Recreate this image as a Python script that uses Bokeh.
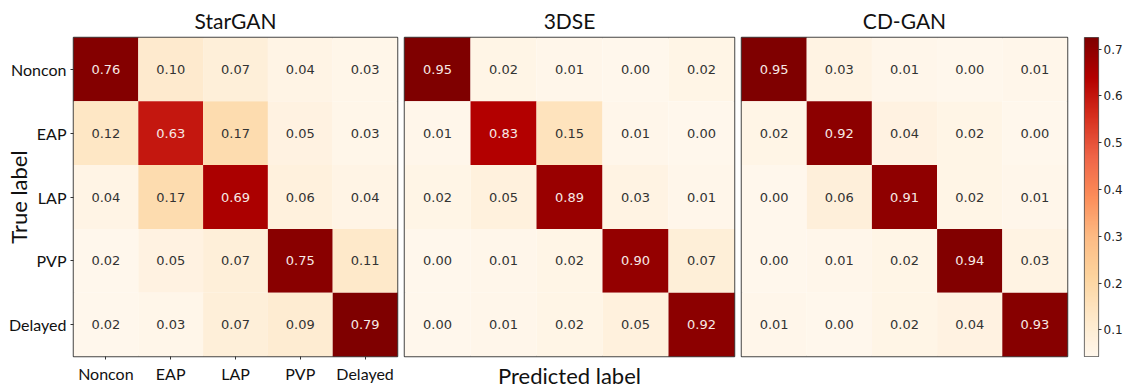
import numpy as np
from bokeh.plotting import figure
from bokeh.layouts import row
from bokeh.models import (ColumnDataSource, FactorRange, Range1d, FixedTicker,
                          Title, LinearColorMapper)
from bokeh.transform import linear_cmap
from bokeh.core.properties import value
from bokeh.palettes import OrRd9
from bokeh.embed import file_html
from bokeh.resources import INLINE

labels = ["Noncon", "EAP", "LAP", "PVP", "Delayed"]
titles = ["StarGAN", "3DSE", "CD-GAN"]

stargan = [[0.76, 0.10, 0.07, 0.04, 0.03],
           [0.12, 0.63, 0.17, 0.05, 0.03],
           [0.04, 0.17, 0.69, 0.06, 0.04],
           [0.02, 0.05, 0.07, 0.75, 0.11],
           [0.02, 0.03, 0.07, 0.09, 0.79]]
dse = [[0.95, 0.02, 0.01, 0.00, 0.02],
       [0.01, 0.83, 0.15, 0.01, 0.00],
       [0.02, 0.05, 0.89, 0.03, 0.01],
       [0.00, 0.01, 0.02, 0.90, 0.07],
       [0.00, 0.01, 0.02, 0.05, 0.92]]
cdgan = [[0.95, 0.03, 0.01, 0.00, 0.01],
         [0.02, 0.92, 0.04, 0.02, 0.00],
         [0.00, 0.06, 0.91, 0.02, 0.01],
         [0.00, 0.01, 0.02, 0.94, 0.03],
         [0.01, 0.00, 0.02, 0.04, 0.93]]

colorbar_ticks = [0.1, 0.2, 0.3, 0.4, 0.5, 0.6, 0.7]
colorbar_low, colorbar_high = 0.043, 0.725

LABEL_FONT = "Lato"
H = 391
TOP = 36
BOTTOM = 33


def make_palette(base, n=256):
    base = list(base)
    lum = lambda c: sum(int(c[i:i + 2], 16) for i in (1, 3, 5))
    if lum(base[0]) < lum(base[-1]):
        base = base[::-1]  # light -> dark
    rgb = np.array([[int(c[i:i + 2], 16) for i in (1, 3, 5)] for c in base], float)
    xs = np.linspace(0, 1, len(base))
    t = np.linspace(0, 1, n)
    out = np.stack([np.interp(t, xs, rgb[:, k]) for k in range(3)], 1)
    return ["#%02x%02x%02x" % tuple(int(round(v)) for v in r) for r in out]


PAL = make_palette(OrRd9)


def panel(mat, title, width, bl, br, low, high):
    xs, ys, vs, ts, cs = [], [], [], [], []
    for i, t in enumerate(labels):
        for j, pr in enumerate(labels):
            v = mat[i][j]
            xs.append(pr)
            ys.append(t)
            vs.append(v)
            ts.append("%.2f" % v)
            cs.append("#f7e9e6" if v > 0.5 else "#333333")
    src = ColumnDataSource(dict(x=xs, y=ys, v=vs, t=ts, c=cs))
    p = figure(width=width, height=H, x_range=FactorRange(*labels),
               y_range=FactorRange(*labels[::-1]), output_backend="svg",
               toolbar_location=None, min_border_left=bl, min_border_right=br,
               min_border_top=TOP, min_border_bottom=BOTTOM, title=title)
    p.rect(x="x", y="y", width=1, height=1, source=src,
           fill_color=linear_cmap("v", PAL, low, high), line_color=None)
    p.text(x="x", y="y", text="t", text_color="c", text_align="center",
           text_baseline="middle", text_font=value("DejaVu Sans"),
           text_font_size="13px", source=src)
    p.title.align = "center"
    p.title.text_font = LABEL_FONT
    p.title.text_font_size = "21px"
    p.title.text_font_style = "normal"
    p.title.text_color = "#111111"
    p.title.standoff = 10
    p.grid.visible = False
    p.outline_line_color = "#444444"
    p.outline_line_width = 1.5
    p.x_range.range_padding = 0
    p.y_range.range_padding = 0
    for ax in (p.xaxis, p.yaxis):
        ax.axis_line_color = None
        ax.major_tick_in = 0
        ax.major_tick_out = 3
        ax.major_tick_line_color = "#333333"
        ax.major_label_text_font = LABEL_FONT
        ax.major_label_text_font_size = "16px"
        ax.major_label_text_color = "#111111"
        ax.axis_label_text_font = LABEL_FONT
        ax.axis_label_text_font_size = "22px"
        ax.axis_label_text_font_style = "normal"
        ax.axis_label_text_color = "#111111"
    return p


p1 = panel(stargan, titles[0], 400, 73, 3, 0.02, 0.77)
p1.xaxis.major_label_standoff = 4
p1.yaxis.major_label_standoff = 4
p1.yaxis.axis_label = "True label"
p1.yaxis.axis_label_standoff = -26

p2 = panel(dse, titles[1], 337, 4, 3, 0.0, 0.95)
p2.xaxis.visible = False
p2.yaxis.visible = False
p2.add_layout(Title(text="Predicted label", align="center", text_font=LABEL_FONT,
                    text_font_size="22px", text_font_style="normal",
                    text_color="#111111", standoff=6), "below")

p3 = panel(cdgan, titles[2], 334, 4, 4, 0.0, 0.95)
p3.xaxis.visible = False
p3.yaxis.visible = False

# colour bar
grad = np.linspace(colorbar_low, colorbar_high, 256).reshape(256, 1)
p4 = figure(width=54, height=H, x_range=Range1d(0, 1),
            y_range=Range1d(colorbar_low, colorbar_high), output_backend="svg",
            toolbar_location=None, min_border_left=13, min_border_right=25,
            min_border_top=TOP, min_border_bottom=BOTTOM - 2, y_axis_location="right")
p4.image(image=[grad], x=0, y=colorbar_low, dw=1, dh=colorbar_high - colorbar_low,
         color_mapper=LinearColorMapper(palette=PAL, low=colorbar_low, high=colorbar_high))
p4.xaxis.visible = False
p4.grid.visible = False
p4.outline_line_color = "#555555"
p4.outline_line_width = 1.2
p4.yaxis.ticker = FixedTicker(ticks=colorbar_ticks)
p4.yaxis.axis_line_color = None
p4.yaxis.minor_tick_line_color = None
p4.yaxis.major_tick_in = 0
p4.yaxis.major_tick_out = 3
p4.yaxis.major_tick_line_color = "#333333"
p4.yaxis.major_label_standoff = 2
p4.yaxis.major_label_text_font = "DejaVu Sans"
p4.yaxis.major_label_text_font_size = "12px"
p4.yaxis.major_label_text_color = "#222222"

layout = row(p1, p2, p3, p4, spacing=0)
open("out.html", "w").write(file_html(layout, INLINE))
